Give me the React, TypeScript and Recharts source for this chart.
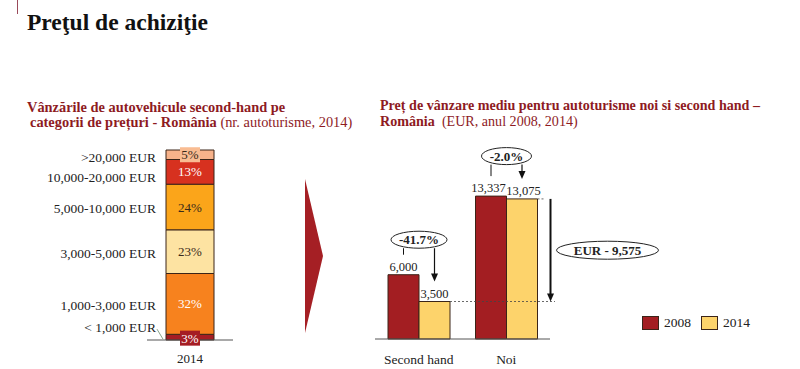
import React from 'react';
import { BarChart, Bar, XAxis, YAxis, LabelList } from 'recharts';

// left chart: used car sales by price band, 2014 (% of units)
const PRICE_BANDS = ['< 1,000 EUR', '1,000-3,000 EUR', '3,000-5,000 EUR', '5,000-10,000 EUR', '10,000-20,000 EUR', '>20,000 EUR'];
const BAND_SHARES = [3, 32, 23, 24, 13, 5];
const BAND_YEAR = '2014';

// right chart: average sale price (EUR)
const CATEGORIES = ['Second hand', 'Noi'];
const PRICES_2008 = [6000, 13337];
const PRICES_2014 = [3500, 13075];
const SERIES_NAMES = ['2008', '2014'];

const FONT = '"Liberation Serif", "DejaVu Serif", serif';
const RED_TITLE = '#8e1b1f';

const BAND_COLORS = ['#a51d24', '#f7821e', '#fde3a2', '#fba51a', '#d7311f', '#f7b28a'];
const BAND_TEXT = ['#ffffff', '#ffffff', '#3a2a1a', '#3a2a1a', '#ffffff', '#3a2a1a'];
const BAND_LABEL_DY = [-10, 1.5, 1.5, 1.5, 5.5, 2.5];
const SERIES_COLORS = ['#a31e22', '#fdd36b'];

const bandRow: Record<string, string | number> = { year: BAND_YEAR };
BAND_SHARES.forEach((v, i) => { bandRow['b' + i] = v; });
const bandData = [bandRow];

const priceData = CATEGORIES.map((name, i) => ({ name, p2008: PRICES_2008[i], p2014: PRICES_2014[i] }));

const fmt = (v: number) => v.toLocaleString('en-US');

const makeBandLabel = (s: number) => (props: any) => {
  const x = Number(props.x), y = Number(props.y), w = Number(props.width), h = Number(props.height);
  const cx = x + w / 2;
  const cy = y + h / 2;
  const boxed = s === 0 || s === 5;
  const ty = s === 0 ? cy + 1 : cy;
  const ly = cy + BAND_LABEL_DY[s];
  return (
    <g>
      {boxed && (
        <rect x={cx - 10} y={ty - 7.5} width={20} height={15} fill={s === 0 ? '#a51d24' : '#f9bc92'} />
      )}
      <text x={cx} y={ty} dy={4.5} textAnchor="middle" fontSize={13} fontFamily={FONT} fill={BAND_TEXT[s]}>
        {BAND_SHARES[s]}%
      </text>
      <text x={x - 10} y={ly} dy={4.5} textAnchor="end" fontSize={13.5} fontFamily={FONT} fill="#222">
        {PRICE_BANDS[s]}
      </text>
      {s === 0 && <line x1={x - 9} y1={ly + 2} x2={x - 3} y2={cy + 2} stroke="#6a8a6a" strokeWidth={0.8} />}
    </g>
  );
};

// value above a bar; nudged apart where two tall bars sit side by side
const makeValueLabel = (shift: number) => (props: any) => {
  const x = Number(props.x), y = Number(props.y), w = Number(props.width);
  const i = Number(props.index);
  const dx = i === 1 ? shift : 0;
  return (
    <text x={x + w / 2 + dx} y={y - 4} textAnchor="middle" fontSize={12.5} fontFamily={FONT} fill="#222">
      {fmt(Number(props.value))}
    </text>
  );
};

const ArrowDown = ({ x, y1, y2, w = 1.2 }: { x: number; y1: number; y2: number; w?: number }) => (
  <g>
    <line x1={x} y1={y1} x2={x} y2={y2 - 7} stroke="#111" strokeWidth={w} />
    <polygon points={`${x - 3.5},${y2 - 8} ${x + 3.5},${y2 - 8} ${x},${y2}`} fill="#111" />
  </g>
);

const LIFT = [35, 40];
const ELLIPSE_RX = [28, 25];

// annotations hang off the 2014 bars; 2008 tops are derived from the same bar scale
const Annotation = (props: any) => {
  const i = Number(props.index);
  const x = Number(props.x), y = Number(props.y), w = Number(props.width), h = Number(props.height);
  const base = y + h;
  const k = h / PRICES_2014[i];
  const top08 = base - PRICES_2008[i] * k;
  const ecy = top08 - LIFT[i];
  const ry = 8.5;
  const pct = ((PRICES_2014[i] / PRICES_2008[i] - 1) * 100).toFixed(1) + '%';
  const parts: React.ReactNode[] = [];
  parts.push(
    <g key="chg">
      <line x1={x - w / 2} y1={ecy + ry} x2={x - w / 2} y2={top08 - 20} stroke="#111" strokeWidth={1} />
      <ArrowDown x={x + w / 2} y1={ecy + ry} y2={y - 20} />
      <ellipse cx={x} cy={ecy} rx={ELLIPSE_RX[i]} ry={ry} fill="#fff" stroke="#222" strokeWidth={1} />
      <text x={x} y={ecy} dy={4.5} textAnchor="middle" fontSize={13} fontWeight="bold" fontFamily={FONT} fill="#222">
        {pct}
      </text>
    </g>
  );
  if (i === 0) {
    parts.push(
      <line key="dot" x1={x + w} y1={y} x2={x + w + 105} y2={y} stroke="#444" strokeWidth={0.8} strokeDasharray="2 2" />
    );
  }
  if (i === 1) {
    const ax = x + w + 13;
    const yLow = base - PRICES_2014[0] * k;
    const mid = (y + yLow) / 2;
    parts.push(
      <g key="diff">
        <line x1={x + w} y1={y} x2={x + w + 8} y2={y} stroke="#444" strokeWidth={0.8} strokeDasharray="2 2" />
        <ArrowDown x={ax} y1={y} y2={yLow} w={2} />
        <ellipse cx={ax + 57} cy={mid} rx={51} ry={9} fill="#fff" stroke="#222" strokeWidth={1} />
        <text x={ax + 57} y={mid} dy={4.5} textAnchor="middle" fontSize={13} fontWeight="bold" fontFamily={FONT} fill="#222">
          {`EUR - ${fmt(PRICES_2014[1] - PRICES_2014[0])}`}
        </text>
      </g>
    );
  }
  return <g>{parts}</g>;
};

const App: React.FC = () => {
  return (
    <div style={{ position: 'absolute', left: 0, top: 0, width: 800, height: 369, background: '#fff', fontFamily: FONT, overflow: 'hidden' }}>
      <div style={{ position: 'absolute', left: 17, top: 0, width: 1, height: 14, background: '#9a4a5a' }} />
      <div style={{ position: 'absolute', left: 27, top: 8, fontSize: 23.5, fontWeight: 'bold', color: '#111', lineHeight: '28px' }}>
        Preţul de achiziţie
      </div>

      <div style={{ position: 'absolute', left: 27, top: 100, fontSize: 14.4, lineHeight: '15px', color: RED_TITLE, whiteSpace: 'nowrap' }}>
        <div style={{ fontWeight: 'bold' }}>Vânzările de autovehicule second-hand pe</div>
        <div style={{ paddingLeft: 3 }}>
          <b>categorii de prețuri - România</b> (nr. autoturisme, 2014)
        </div>
      </div>

      <div style={{ position: 'absolute', left: 380, top: 97, fontSize: 14.1, lineHeight: '16px', color: RED_TITLE, whiteSpace: 'nowrap' }}>
        <div style={{ fontWeight: 'bold' }}>Preț de vânzare mediu pentru autoturisme noi si second hand –</div>
        <div>
          <b>România</b>&nbsp; (EUR, anul 2008, 2014)
        </div>
      </div>

      <svg style={{ position: 'absolute', left: 0, top: 0 }} width={800} height={369}>
        <polygon points="305,179 323,256 305,333" fill="#a51f24" />
      </svg>

      <div style={{ position: 'absolute', left: 0, top: 140 }}>
        <BarChart width={260} height={229} data={bandData} margin={{ top: 10, right: 27, bottom: 0, left: 147 }} barSize={48}>
          <XAxis dataKey="year" height={29} tickLine={false} axisLine={{ stroke: '#555' }} tickMargin={8}
            tick={{ fill: '#222', fontSize: 13, fontFamily: FONT }} />
          <YAxis hide domain={[0, 100]} />
          {BAND_SHARES.map((_, s) => (
            <Bar key={s} dataKey={'b' + s} stackId="a" fill={BAND_COLORS[s]} stroke="#3b2418" strokeWidth={1} isAnimationActive={false}>
              <LabelList dataKey={'b' + s} content={makeBandLabel(s)} />
            </Bar>
          ))}
        </BarChart>
      </div>

      <div style={{ position: 'absolute', left: 370, top: 140 }}>
        <BarChart width={430} height={229} data={priceData} margin={{ top: 49, right: 250, bottom: 0, left: 5 }} barSize={31} barGap={0}>
          <XAxis dataKey="name" height={30} tickLine={false} axisLine={{ stroke: '#555' }} tickMargin={9}
            tick={{ fill: '#222', fontSize: 13.5, fontFamily: FONT }} />
          <YAxis hide domain={[0, 14000]} />
          <Bar dataKey="p2008" name={SERIES_NAMES[0]} fill={SERIES_COLORS[0]} stroke="#3b2418" strokeWidth={1} isAnimationActive={false}>
            <LabelList dataKey="p2008" content={makeValueLabel(-2.5)} />
          </Bar>
          <Bar dataKey="p2014" name={SERIES_NAMES[1]} fill={SERIES_COLORS[1]} stroke="#3b2418" strokeWidth={1} isAnimationActive={false}>
            <LabelList dataKey="p2014" content={makeValueLabel(1.5)} />
            <LabelList dataKey="p2014" content={Annotation} />
          </Bar>
        </BarChart>
      </div>

      {SERIES_NAMES.map((n, i) => (
        <div key={n} style={{ position: 'absolute', left: 642 + i * 59, top: 315, display: 'flex', alignItems: 'center' }}>
          <div style={{ width: 15, height: 12, background: SERIES_COLORS[i], border: '1px solid #3b2418' }} />
          <span style={{ marginLeft: 5, fontSize: 13.5, color: '#222' }}>{n}</span>
        </div>
      ))}
    </div>
  );
};

export default App;
